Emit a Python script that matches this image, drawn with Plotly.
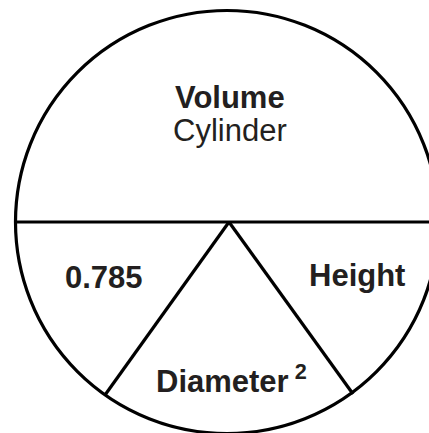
import plotly.graph_objects as go

# Diagram geometry (pixel-space data units)
circle_center = [227, 222]
circle_radius = 211.5
divider_y = [222]
triangle_apex = [229, 222]
triangle_base_left = [105, 395]
triangle_base_right = [353, 394]

# Labels
label_texts = ["<b>Volume</b>", "Cylinder", "<b>0.785</b>", "<b>Height</b>", "<b>Diameter<sup> 2</sup></b>"]
label_x = [230, 230, 104, 357, 231]
label_y = [97, 130, 277, 275, 379]

W, H = 429, 433
fig = go.Figure()
fig.add_trace(go.Scatter(x=[0, W], y=[0, H], mode="markers", marker=dict(opacity=0), hoverinfo="skip", showlegend=False))

line = dict(color="#000000", width=3.2)
cx, cy = circle_center
r = circle_radius
fig.add_shape(type="circle", xref="x", yref="y", x0=cx - r, x1=cx + r, y0=cy - r, y1=cy + r, line=line)
fig.add_shape(type="line", xref="x", yref="y", x0=cx - r, x1=cx + r, y0=divider_y[0], y1=divider_y[0], line=line)
fig.add_shape(type="line", xref="x", yref="y", x0=triangle_apex[0], y0=triangle_apex[1],
              x1=triangle_base_left[0], y1=triangle_base_left[1], line=line)
fig.add_shape(type="line", xref="x", yref="y", x0=triangle_apex[0], y0=triangle_apex[1],
              x1=triangle_base_right[0], y1=triangle_base_right[1], line=line)

for t, x, y in zip(label_texts, label_x, label_y):
    fig.add_annotation(x=x, y=y, xref="x", yref="y", text=t, showarrow=False,
                       xanchor="center", yanchor="middle",
                       font=dict(family="Liberation Sans, Arial, sans-serif", size=31, color="#231f20"))

fig.update_xaxes(range=[0, W], visible=False, fixedrange=True)
fig.update_yaxes(range=[H, 0], visible=False, fixedrange=True)
fig.update_layout(width=W, height=H, margin=dict(l=0, r=0, t=0, b=0),
                  paper_bgcolor="white", plot_bgcolor="white", showlegend=False)
fig.write_html("out.html", config={"displayModeBar": False},
               post_script="document.body.style.margin='0';document.body.style.overflow='hidden';")
